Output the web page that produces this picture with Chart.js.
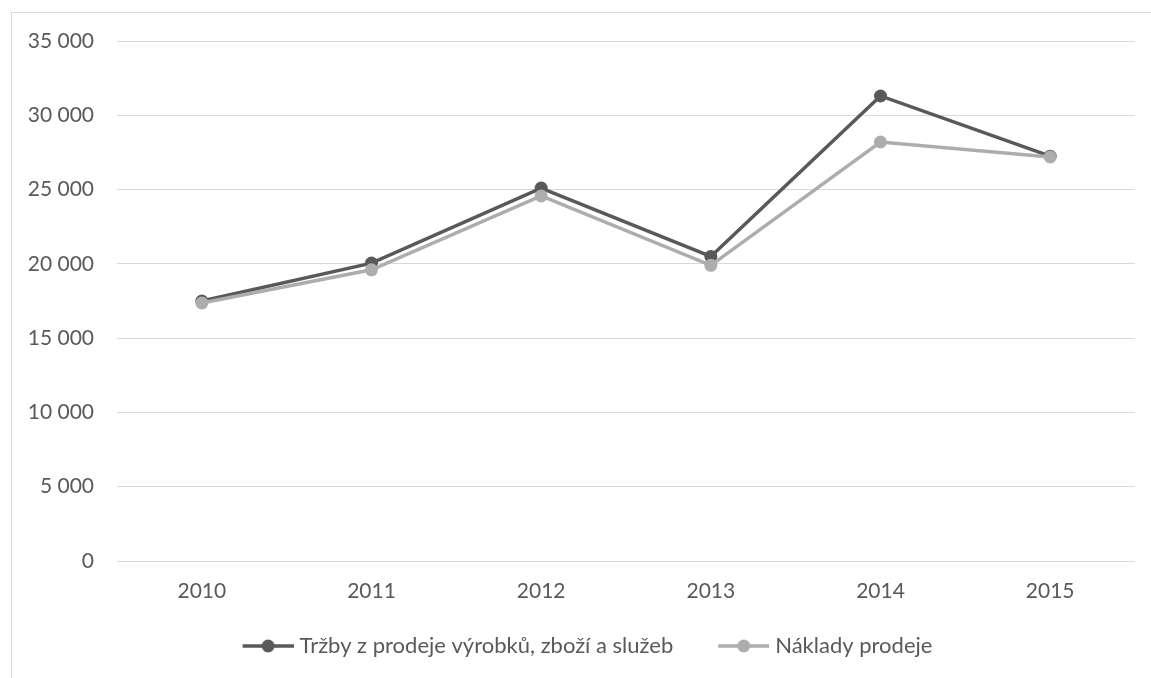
<!DOCTYPE html>
<html>
<head>
<meta charset="utf-8">
<script src="https://cdn.jsdelivr.net/npm/chart.js@4.4.1/dist/chart.umd.min.js"></script>
<style>
  html, body { margin: 0; padding: 0; background: #ffffff; overflow: hidden; }
  #wrap { position: relative; width: 1151px; height: 678px; }
  #frame { position: absolute; left: 11px; top: 12px; width: 1200px; height: 700px;
           border-left: 1px solid #d9d9d9; border-top: 1px solid #d9d9d9; box-sizing: border-box; }
  #c { position: absolute; left: 0; top: 0; }
</style>
</head>
<body>
<div id="wrap">
  <div id="frame"></div>
  <canvas id="c" width="1151" height="678"></canvas>
</div>
<script>
const categories = ['2010', '2011', '2012', '2013', '2014', '2015'];
const seriesNames = ['Tržby z prodeje výrobků, zboží a služeb', 'Náklady prodeje'];
const trzby = [17500, 20050, 25100, 20500, 31300, 27250];
const naklady = [17370, 19600, 24570, 19900, 28200, 27200];
const yTicks = [0, 5000, 10000, 15000, 20000, 25000, 30000, 35000];

const DARK = '#595959';
const LIGHT = '#adadad';
const FONT = 'Lato, "Open Sans", sans-serif';

function legendMarker(color) {
  const c = document.createElement('canvas');
  c.width = 96; c.height = 16;
  const g = c.getContext('2d');
  g.strokeStyle = color; g.lineWidth = 3.5;
  g.beginPath(); g.moveTo(45, 8); g.lineTo(96, 8); g.stroke();
  g.fillStyle = color;
  g.beginPath(); g.arc(70.5, 8, 6.5, 0, Math.PI * 2); g.fill();
  return c;
}
const markers = [legendMarker(DARK), legendMarker(LIGHT)];

function fmt(v) {
  return String(v).replace(/\B(?=(\d{3})+(?!\d))/g, ' ');
}

new Chart(document.getElementById('c'), {
  type: 'line',
  data: {
    labels: categories,
    datasets: [
      { label: seriesNames[0], data: trzby, borderColor: DARK, backgroundColor: DARK,
        borderWidth: 3.5, pointRadius: 6.5, pointHoverRadius: 6.5, pointBorderWidth: 0,
        pointBackgroundColor: DARK, tension: 0, order: 1 },
      { label: seriesNames[1], data: naklady, borderColor: LIGHT, backgroundColor: LIGHT,
        borderWidth: 3.5, pointRadius: 6.5, pointHoverRadius: 6.5, pointBorderWidth: 0,
        pointBackgroundColor: LIGHT, tension: 0, order: 0 }
    ]
  },
  options: {
    responsive: false,
    animation: false,
    layout: { padding: { left: 0, right: 16, top: 41, bottom: 11 } },
    scales: {
      x: {
        offset: true,
        grid: { display: false, drawTicks: false },
        border: { display: false },
        ticks: { color: DARK, font: { family: FONT, size: 21, lineHeight: 1.2 }, padding: 18 },
        afterFit: (s) => { s.height = 69; }
      },
      y: {
        min: 0, max: 35000,
        grid: { color: '#d9d9d9', lineWidth: 1, drawTicks: false },
        border: { display: false },
        afterBuildTicks: (s) => { s.ticks = yTicks.map(v => ({ value: v })); },
        ticks: { color: DARK, font: { family: FONT, size: 21 }, padding: 23,
                 callback: (v) => fmt(v) },
        afterFit: (s) => { s.width = 117; }
      }
    },
    plugins: {
      tooltip: { enabled: false },
      legend: {
        position: 'bottom',
        labels: {
          usePointStyle: true,
          pointStyleWidth: 86,
          padding: 5,
          color: DARK,
          font: { family: FONT, size: 22 },
          sort: (a, b) => a.datasetIndex - b.datasetIndex,
          generateLabels: (chart) => {
            const items = Chart.defaults.plugins.legend.labels.generateLabels(chart);
            items.forEach(it => { it.pointStyle = markers[it.datasetIndex]; });
            return items;
          }
        }
      }
    }
  }
});
</script>
</body>
</html>
